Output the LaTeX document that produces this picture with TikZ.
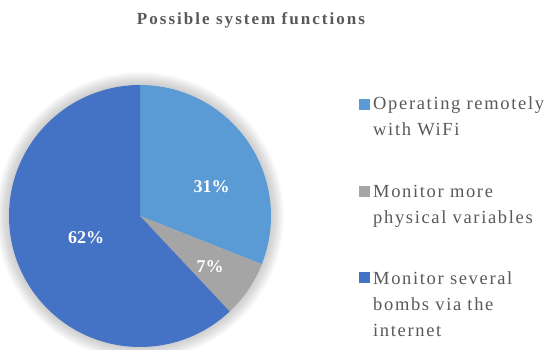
\documentclass[tikz,border=0pt]{standalone}
\usepackage{fontspec}
\setmainfont{Liberation Serif}
\usetikzlibrary{positioning}
\definecolor{wifiblue}{HTML}{5B9BD5}
\definecolor{varsgray}{HTML}{A5A5A5}
\definecolor{netblue}{HTML}{4472C4}
\definecolor{textgray}{HTML}{595959}
\tikzstyle{title}=[text=textgray,font=\fontsize{17}{17}\selectfont\bfseries\addfontfeature{LetterSpace=12},inner sep=0pt,anchor=base]
\tikzstyle{share}=[text=white,font=\fontsize{18}{18}\selectfont\bfseries,inner sep=0pt]
\tikzstyle{key}=[minimum size=11pt,inner sep=0pt]
\tikzstyle{keytext}=[text=textgray,font=\fontsize{18.5}{26}\selectfont\addfontfeature{LetterSpace=9},text width=180pt,align=left,inner sep=0pt,anchor=base west]

\begin{document}
\begin{tikzpicture}[x=1pt,y=1pt]
	\useasboundingbox (0,0) rectangle (551,350);
	\node[title] (head) at (251,325) {Possible system functions};

	% soft shadow round the pie
	\coordinate (c) at (140,134);
	\foreach \r in {132,...,144}
	\fill[black,opacity=0.014] (c) circle (\r);

	% First we draw the slices
	\foreach \from/\to/\col in {90/-21.6/wifiblue, -21.6/-46.8/varsgray, -46.8/-270/netblue}
	\fill[\col] (c) -- ++(\from:131) arc (\from:\to:131) -- cycle;

	% Percentages on the slices
	\foreach \pos/\name/\val in {{(211.7,163.3)/wifipct/31}, {(210,83.3)/varspct/7}, {(86,112)/netpct/62}}
	\node[share] (\name) at \pos {\val\%};

	% Legend
	\foreach \y/\base/\col/\name/\txt in {245/240/wifiblue/wifi/{Operating remotely\\with WiFi},
	                                      158/152/varsgray/vars/{Monitor more\\physical variables},
	                                      72/65/netblue/net/{Monitor several\\bombs via the\\internet}}
	{
		\node[key,fill=\col] (\name key) at (364,\y) {};
		\node[keytext] (\name text) at (373,\base) {\txt};
	}
\end{tikzpicture}
\end{document}
